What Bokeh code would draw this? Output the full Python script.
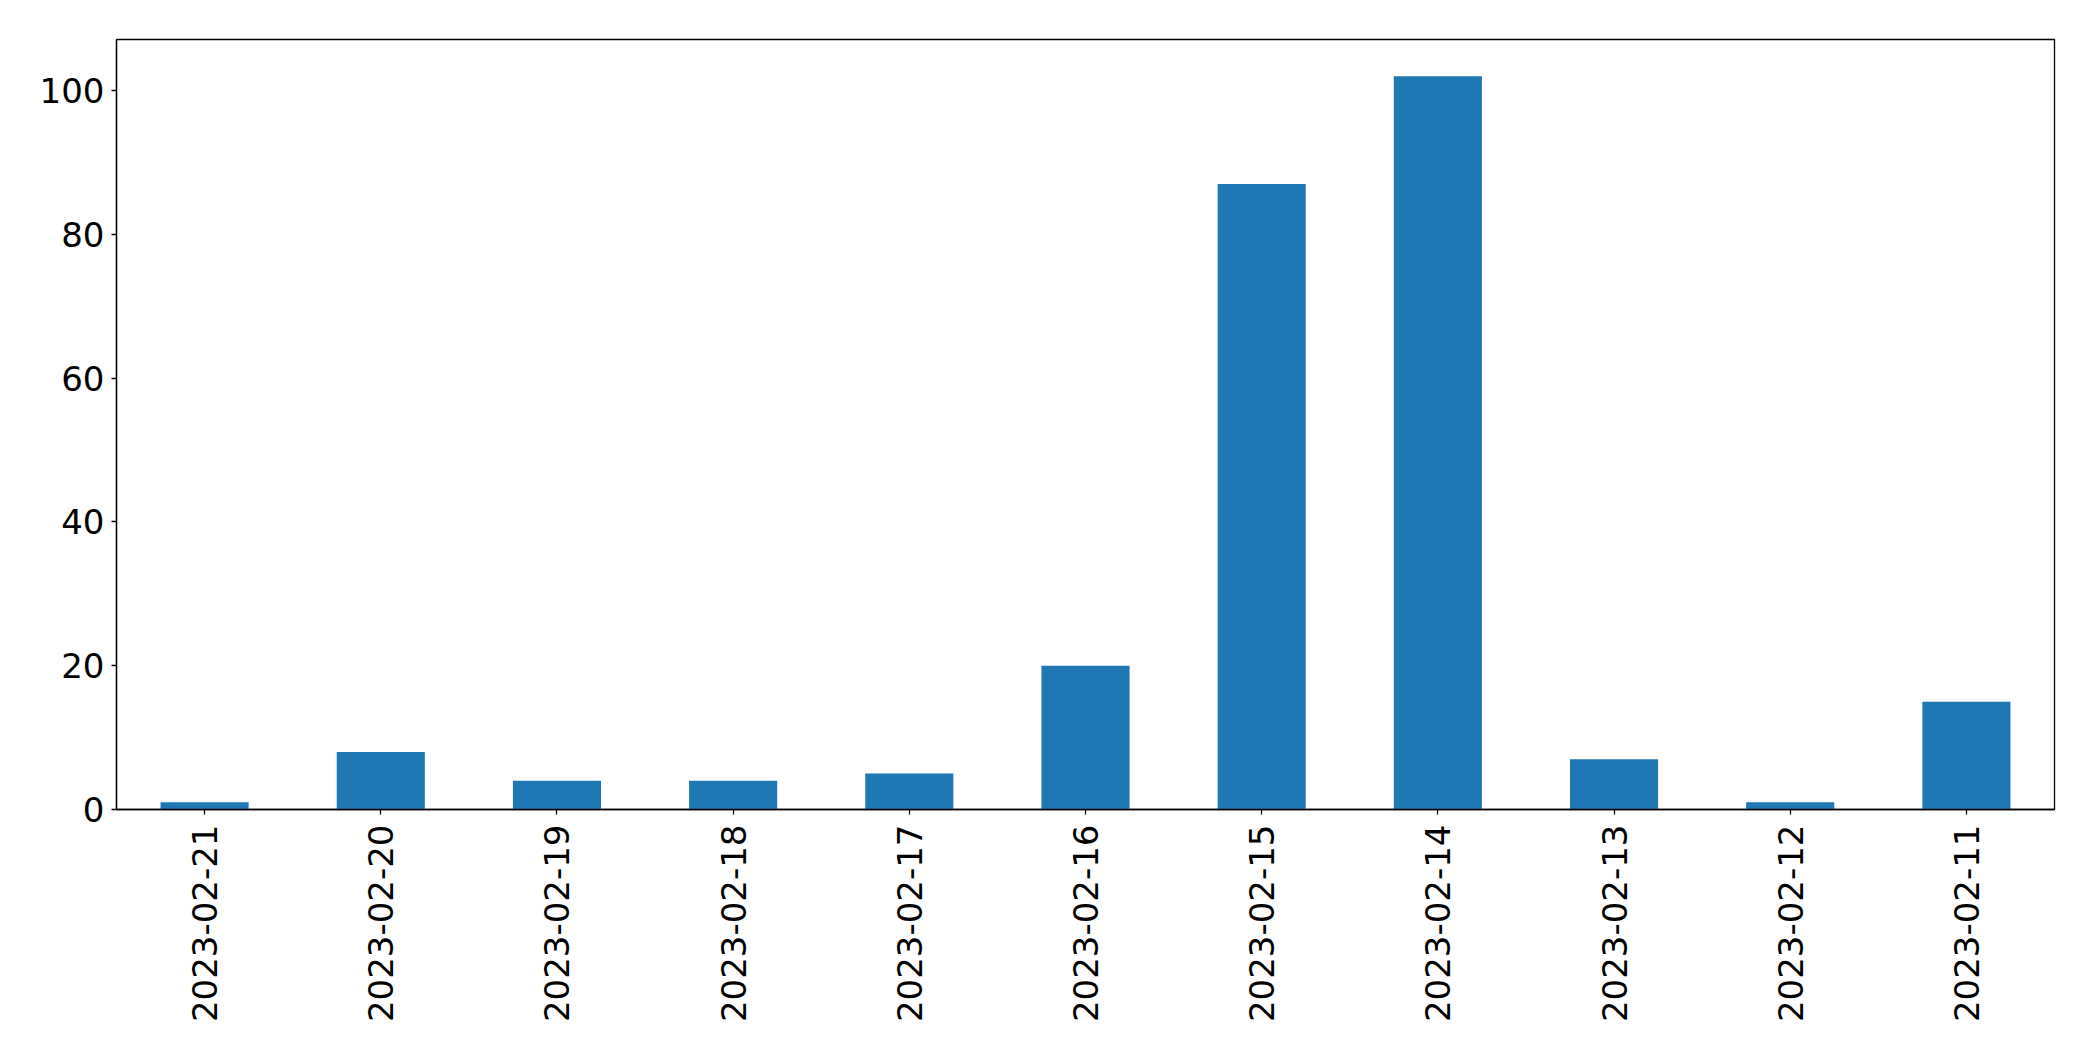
import math
from bokeh.plotting import figure
from bokeh.models import FactorRange, Range1d, FixedTicker, ColumnDataSource
from bokeh.embed import file_html
from bokeh.resources import INLINE

dates = ["2023-02-21", "2023-02-20", "2023-02-19", "2023-02-18", "2023-02-17",
         "2023-02-16", "2023-02-15", "2023-02-14", "2023-02-13", "2023-02-12",
         "2023-02-11"]
counts = [1, 8, 4, 4, 5, 20, 87, 102, 7, 1, 15]
y_ticks = [0, 20, 40, 60, 80, 100]

src = ColumnDataSource(dict(date=dates, count=counts))

p = figure(
    x_range=FactorRange(*dates, range_padding=0),
    y_range=Range1d(0, max(counts) * 1.05),
    frame_width=1938, frame_height=770,
    min_border_left=116, min_border_top=39, min_border_right=23, min_border_bottom=228,
    output_backend="svg", toolbar_location=None,
)
p.vbar(x="date", top="count", width=0.5, source=src, color="#1f77b4", line_color=None)

p.xgrid.visible = False
p.ygrid.visible = False
p.outline_line_color = "black"
p.outline_line_width = 1.3
p.outline_line_alpha = 1.0
p.background_fill_color = "white"
p.border_fill_color = "white"

for ax in (p.xaxis[0], p.yaxis[0]):
    ax.axis_line_color = "black"
    ax.axis_line_width = 1.3
    ax.major_tick_line_color = "black"
    ax.major_tick_line_width = 1.3
    ax.major_tick_out = 5
    ax.major_tick_in = 0
    ax.minor_tick_line_color = None
    ax.major_label_text_font = "DejaVu Sans"
    ax.major_label_text_font_size = "34px"
    ax.major_label_text_color = "black"

p.yaxis[0].ticker = FixedTicker(ticks=y_ticks)
p.yaxis[0].major_label_standoff = 7
p.xaxis[0].major_label_orientation = math.pi / 2
p.xaxis[0].major_label_standoff = 10
p.xaxis[0].group_text_font_size = "0px"

open("out.html", "w").write(file_html(p, INLINE))
